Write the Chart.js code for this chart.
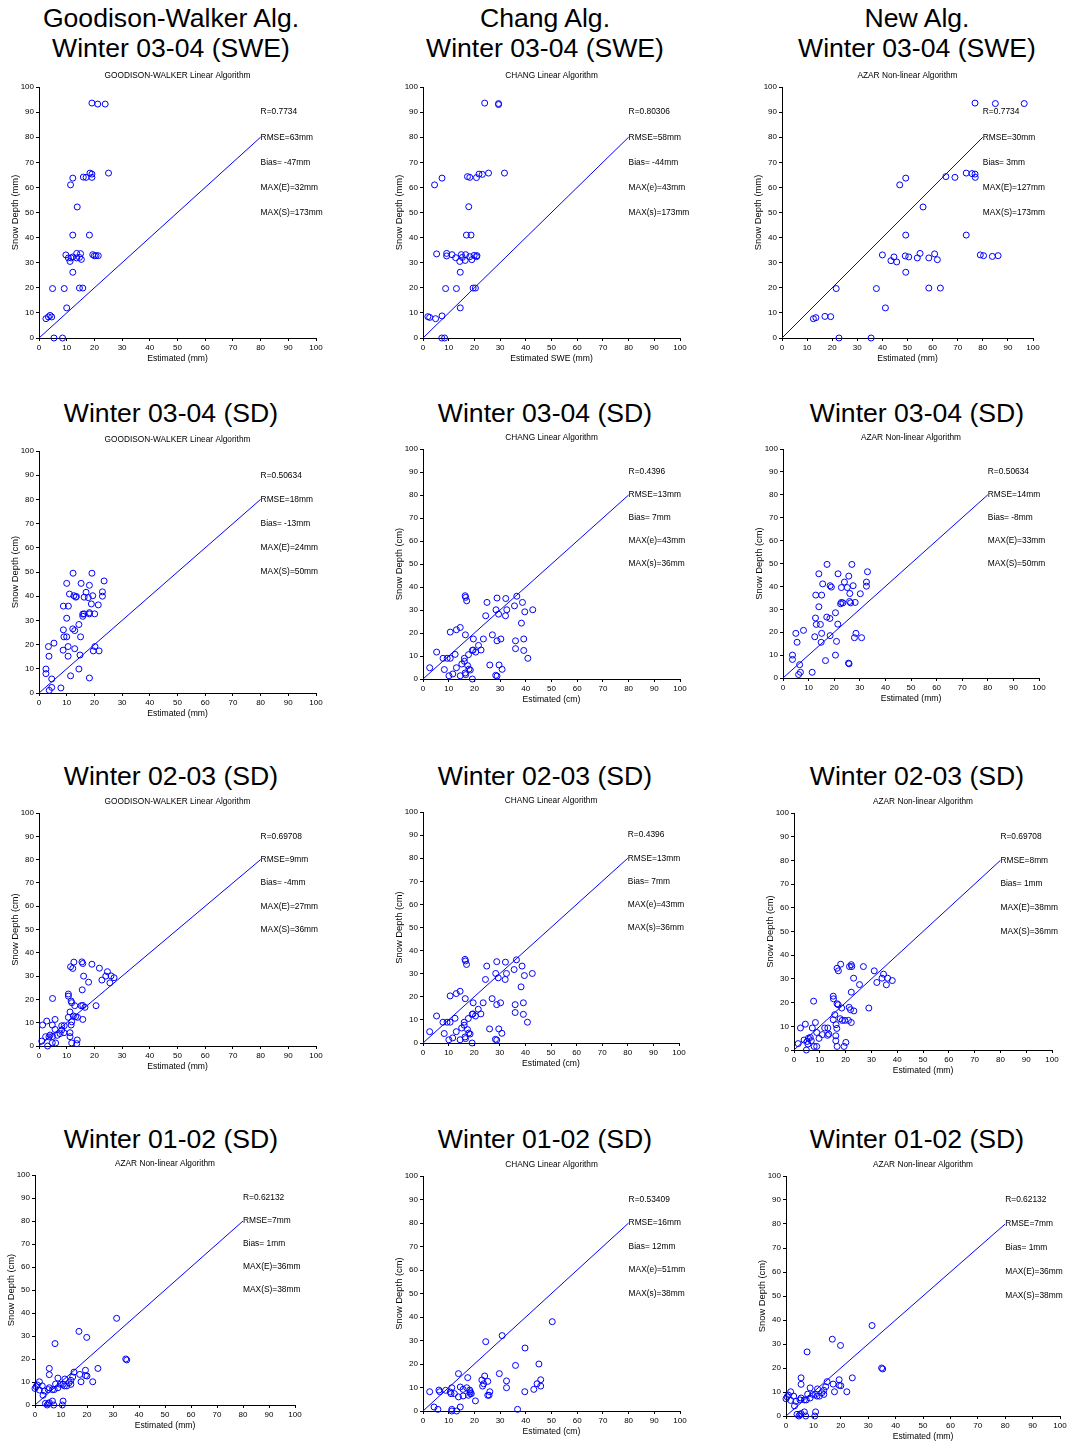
<!DOCTYPE html>
<html>
<head>
<meta charset="utf-8">
<script src="https://cdn.jsdelivr.net/npm/chart.js@4.4.0/dist/chart.umd.min.js"></script>
<style>
  body { margin: 0; background: #fff; width: 1070px; height: 1442px; position: relative; overflow: hidden;
         font-family: Arial, "Liberation Sans", sans-serif; }
  .big { position: absolute; font-size: 26.6px; line-height: 30px; transform: translateX(-50%); white-space: nowrap; color: #000; }
  canvas { position: absolute; }
</style>
</head>
<body>
<script>
// ---- titles ----
const colTitles = ["Goodison-Walker Alg.", "Chang Alg.", "New Alg."];
const rowTitles = ["Winter 03-04 (SWE)", "Winter 03-04 (SD)", "Winter 02-03 (SD)", "Winter 01-02 (SD)"];

// ---- 1:1 reference line ----
const refLineX = [0, 80];
const refLineY = [0, 80];

// ---- winter 03-04, SWE ----
const gwSwe0304Est = [19.1,21.2,23.9,18.4,19.1,19.1,17.0,16.0,25.1,12.2,11.4,13.8,12.2,18.2,9.7,10.6,11.2,11.6,12.2,13.6,13.6,14.6,15.0,15.3,19.4,20.0,20.6,21.4,12.2,9.1,4.9,14.6,15.8,10.0,2.5,3.4,4.0,4.6,5.4,8.5];
const gwSwe0304Obs = [93.6,93.2,93.2,65.7,65.3,64.0,64.0,64.1,65.7,63.7,61.0,52.2,41.0,41.0,33.1,31.9,30.5,31.9,32.3,33.7,31.9,32.1,33.6,31.3,33.2,32.8,32.8,32.8,26.2,19.7,19.7,19.9,19.9,12.0,7.7,8.4,9.0,8.4,0,0];

const changSwe0304Est = [24.0,29.4,29.4,4.5,7.4,17.3,18.2,20.8,21.8,23.1,25.5,31.7,17.8,16.9,18.7,5.3,9.2,9.2,11.3,12.7,14.3,14.9,15.3,16.4,16.6,18.2,19.0,19.9,20.8,21.0,14.5,8.8,13.0,19.5,20.4,14.5,1.9,2.6,4.9,7.4,7.3,8.4];
const changSwe0304Obs = [93.6,93.4,93.0,61.0,63.7,64.3,64.0,63.9,65.3,65.2,65.7,65.7,52.3,41.0,41.0,33.5,33.7,32.7,33.2,32.0,30.5,33.2,32.1,30.9,33.2,32.4,31.2,32.9,32.4,32.8,26.2,19.7,19.7,19.9,19.9,12.0,8.5,8.2,7.7,8.8,0,0];

const azarSwe0304Est = [76.9,85.0,96.5,73.4,75.7,76.9,77.0,68.9,65.3,46.9,49.3,56.2,49.3,73.4,40.0,44.6,43.4,45.7,49.1,50.5,53.9,55.0,58.5,60.8,61.9,79.0,80.3,83.8,86.1,49.3,21.6,37.6,58.5,63.1,41.2,12.5,13.5,17.1,19.4,22.7,35.5];
const azarSwe0304Obs = [93.6,93.4,93.4,65.7,65.5,65.3,64.0,64.0,64.3,61.0,63.7,52.2,41.0,41.0,33.1,32.3,30.8,30.3,32.7,32.3,31.9,33.7,31.9,33.5,31.2,33.1,32.8,32.5,32.8,26.2,19.7,19.7,19.9,19.9,12.0,7.7,8.1,8.6,8.5,0,0];

// ---- winter 03-04, snow depth ----
const gwSd0304Est = [12.3,19.1,10.0,15.2,18.2,23.5,11.0,12.6,13.3,13.5,17.0,16.3,17.8,19.4,22.9,22.9,8.8,10.6,18.9,21.4,10.0,15.8,15.8,16.3,18.2,18.2,20.1,8.8,12.2,12.9,14.4,9.0,10.0,15.0,3.4,5.4,10.5,8.7,12.9,3.6,10.5,14.8,20.2,19.6,21.7,2.5,2.5,14.4,11.4,18.2,4.6,4.6,3.7,7.9];
const gwSd0304Obs = [49.5,49.5,45.3,45.3,44.5,46.3,40.9,40.2,39.6,39.9,41.6,39.6,39.4,40.2,41.8,40.0,35.9,35.9,36.8,36.4,30.9,32.6,31.7,32.7,33.2,32.7,32.7,26.1,26.5,25.8,28.3,23.2,23.2,23.2,19.2,20.6,19.2,17.7,18.3,15.2,15.2,15.7,19.2,17.4,17.4,9.9,8.0,9.9,7.1,6.2,5.8,2.3,1.1,2.1];

// Chang snow depth (same in the 03-04 and 02-03 rows)
const changSdEst = [16.4,16.6,17.0,28.8,32.2,36.5,24.9,38.7,28.4,32.6,29.4,35.6,39.6,42.7,24.4,32.1,38.3,14.5,13.0,10.6,16.5,27.0,19.6,23.5,28.8,30.3,36.0,39.2,36.0,39.2,21.6,22.6,19.5,19.2,20.5,5.3,12.5,17.7,7.8,9.4,10.6,16.1,40.8,2.6,8.3,13.0,15.1,16.1,17.4,17.9,18.4,16.4,16.6,26.0,29.6,30.8,10.1,11.6,14.5,19.2,28.3,28.8];
const changSdObs = [36.2,35.5,34.0,35.2,35.0,36.0,33.3,33.3,30.1,30.1,28.2,31.8,29.2,30.1,27.5,27.5,24.3,22.4,21.4,20.4,19.2,19.2,17.4,17.4,16.6,17.4,16.6,17.4,13.2,12.4,14.6,12.6,12.6,12.4,11.7,11.7,10.7,10.6,9.0,9.0,9.0,9.0,9.0,4.9,4.1,4.9,6.5,7.7,5.8,4.3,3.9,2.6,1.9,6.1,6.1,4.2,1.4,2.2,1.4,0,1.6,1.3];

const azarSd0304Est = [17.2,26.9,14.0,21.5,25.7,33.0,15.5,18.4,18.9,24.0,22.8,25.1,27.4,32.6,32.6,12.8,15.1,26.1,30.2,14.0,22.5,22.8,23.4,26.0,26.4,28.2,12.7,17.1,18.3,20.5,13.0,14.6,21.4,5.0,8.0,15.1,12.4,18.4,5.5,14.9,20.9,28.5,27.9,30.7,3.7,3.7,20.5,16.6,25.6,25.8,6.5,6.8,6.1,11.4];
const azarSd0304Obs = [49.6,49.6,45.5,45.5,44.5,46.4,41.1,40.3,39.7,41.9,39.5,39.5,40.3,41.9,40.1,36.2,36.2,36.9,36.8,31.1,32.4,33.0,32.8,33.4,32.8,33.0,26.2,26.6,26.0,28.5,23.4,23.4,23.5,19.5,20.8,19.5,18.0,18.5,15.6,15.6,16.0,19.5,17.6,17.6,10.0,8.1,10.0,7.6,6.5,6.2,5.8,2.5,1.5,2.5];

// ---- winter 02-03, snow depth ----
const gwSd0203Est = [12.6,15.5,15.8,11.4,12.2,19.1,21.8,24.7,24.1,26.0,27.1,22.7,25.6,17.9,16.1,15.6,10.6,10.6,4.9,11.6,11.8,15.2,15.8,16.6,12.9,20.6,11.2,12.4,13.2,10.6,13.9,15.8,11.8,11.6,5.8,2.8,1.3,8.2,9.1,4.8,5.8,8.2,9.0,11.2,7.6,6.6,4.0,3.6,2.4,4.9,11.2,1.0,4.8,6.0,11.8,13.8,13.6,3.1];
const gwSd0203Obs = [36.0,36.1,35.4,34.0,33.3,35.1,33.4,31.9,30.0,30.1,29.3,28.3,27.1,27.4,30.0,24.1,22.3,21.4,20.4,19.3,18.6,17.3,17.4,16.6,17.3,17.3,14.6,12.9,12.6,12.3,12.3,11.4,10.4,9.0,11.4,10.7,9.0,8.7,8.7,9.0,7.1,6.9,5.7,5.7,5.3,4.6,4.7,3.9,4.0,4.1,4.0,2.1,1.4,1.3,1.3,2.6,1.0,0];

const azarSd0203Est = [18.1,22.2,22.4,21.5,16.7,17.2,26.9,31.1,34.7,34.1,36.3,38.1,32.1,35.8,25.4,23.1,22.2,15.2,15.3,7.6,16.7,17.1,18.5,21.4,21.9,23.2,29.0,15.8,15.2,17.9,18.7,19.7,21.1,22.2,16.3,8.3,4.4,2.5,7.1,16.6,11.9,13.1,8.8,13.5,13.0,11.0,16.2,9.7,5.6,6.3,3.9,6.7,5.1,1.6,5.4,16.2,16.7,20.1,19.4,7.8,8.8,4.8];
const azarSd0203Obs = [36.2,36.0,35.2,35.2,34.5,33.4,35.2,33.4,32.0,30.3,30.3,29.3,28.5,27.5,27.6,30.3,24.4,22.7,21.6,20.6,19.5,19.1,17.7,18.0,17.0,16.5,17.7,14.9,12.8,13.2,12.5,12.5,12.5,11.6,10.7,11.6,10.9,9.3,9.3,9.1,9.3,9.3,7.4,6.7,6.2,6.5,6.0,4.9,5.0,5.3,4.2,3.9,3.6,2.7,2.5,3.9,1.5,3.2,1.5,1.5,1.5,0];

// ---- winter 01-02, snow depth ----
const azarSd0102Est = [31.4,16.9,19.9,7.7,5.5,5.5,24.2,19.4,15.0,17.2,19.4,20.0,14.5,8.8,11.5,13.8,17.7,22.2,1.7,13.1,7.9,9.7,10.8,11.3,12.2,13.8,0.4,0.9,2.8,0,5.5,8.8,1.7,3.6,5.1,6.7,7.4,3.1,4.0,5.1,5.5,6.7,7.2,4.7,10.8,10.5,34.9,35.3];
const azarSd0102Obs = [37.7,32.0,29.4,26.7,15.9,13.2,15.9,15.1,14.3,13.3,12.8,12.6,12.2,11.7,11.3,10.7,10.1,10.1,10.1,9.7,9.1,9.0,9.0,8.3,8.3,9.0,8.0,8.7,8.3,7.2,7.5,7.5,6.5,6.1,6.7,6.7,6.7,4.2,0.7,0.6,1.0,1.7,0,0,1.7,0,20.0,19.6];

const changSd0102Est = [50.3,30.8,24.4,39.7,45.1,36.0,13.8,29.7,17.4,24.0,22.9,25.2,32.5,45.8,44.4,45.8,23.2,23.6,32.5,14.5,11.2,17.0,15.6,18.2,18.4,18.4,17.7,18.8,2.6,6.2,6.5,8.8,10.6,10.9,12.2,13.8,15.6,26.0,25.2,25.7,39.6,43.1,20.4,4.3,5.8,11.2,11.2,13.1,14.5,36.8];
const changSd0102Obs = [38.0,32.1,29.5,26.8,20.0,19.4,15.9,15.9,14.2,14.9,13.2,12.6,12.8,13.3,11.6,10.6,10.6,11.6,9.9,10.2,9.9,9.9,9.2,8.9,8.2,7.4,6.7,7.4,8.2,8.9,8.2,8.8,8.1,7.4,7.4,6.0,6.4,8.2,6.7,6.7,8.2,9.2,4.3,1.7,0.7,0.7,0,0,1.7,0.7];

// ---- statistics printed in each panel ----
const statsGwSwe0304    = ["R=0.7734", "RMSE=63mm", "Bias= -47mm", "MAX(E)=32mm", "MAX(S)=173mm"];
const statsChangSwe0304 = ["R=0.80306", "RMSE=58mm", "Bias= -44mm", "MAX(e)=43mm", "MAX(s)=173mm"];
const statsAzarSwe0304  = ["R=0.7734", "RMSE=30mm", "Bias= 3mm", "MAX(E)=127mm", "MAX(S)=173mm"];
const statsGwSd0304     = ["R=0.50634", "RMSE=18mm", "Bias= -13mm", "MAX(E)=24mm", "MAX(S)=50mm"];
const statsChangSd      = ["R=0.4396", "RMSE=13mm", "Bias= 7mm", "MAX(e)=43mm", "MAX(s)=36mm"];
const statsAzarSd0304   = ["R=0.50634", "RMSE=14mm", "Bias= -8mm", "MAX(E)=33mm", "MAX(S)=50mm"];
const statsGwSd0203     = ["R=0.69708", "RMSE=9mm", "Bias= -4mm", "MAX(E)=27mm", "MAX(S)=36mm"];
const statsAzarSd0203   = ["R=0.69708", "RMSE=8mm", "Bias= 1mm", "MAX(E)=38mm", "MAX(S)=36mm"];
const statsAzarSd0102   = ["R=0.62132", "RMSE=7mm", "Bias= 1mm", "MAX(E)=36mm", "MAX(S)=38mm"];
const statsChangSd0102  = ["R=0.53409", "RMSE=16mm", "Bias= 12mm", "MAX(e)=51mm", "MAX(s)=38mm"];

const GW = "GOODISON-WALKER Linear Algorithm";
const CH = "CHANG Linear Algorithm";
const AZ = "AZAR Non-linear Algorithm";

// plot boxes [left, top, right, bottom] in page pixels
const panels = [
  { box: [39, 87, 316, 338],     algo: GW, yt: "Snow Depth (mm)", xt: "Estimated (mm)",     x: gwSwe0304Est,    y: gwSwe0304Obs,    stats: statsGwSwe0304 },
  { box: [423, 87, 680, 338],    algo: CH, yt: "Snow Depth (mm)", xt: "Estimated SWE (mm)", x: changSwe0304Est, y: changSwe0304Obs, stats: statsChangSwe0304 },
  { box: [782, 87, 1033, 338],   algo: AZ, yt: "Snow Depth (mm)", xt: "Estimated (mm)",     x: azarSwe0304Est,  y: azarSwe0304Obs,  stats: statsAzarSwe0304 },
  { box: [39, 451, 316, 693],    algo: GW, yt: "Snow Depth (cm)", xt: "Estimated (mm)",     x: gwSd0304Est,     y: gwSd0304Obs,     stats: statsGwSd0304 },
  { box: [423, 449, 680, 679],   algo: CH, yt: "Snow Depth (cm)", xt: "Estimated (cm)",     x: changSdEst,      y: changSdObs,      stats: statsChangSd },
  { box: [783, 449, 1039, 678],  algo: AZ, yt: "Snow Depth (cm)", xt: "Estimated (mm)",     x: azarSd0304Est,   y: azarSd0304Obs,   stats: statsAzarSd0304 },
  { box: [39, 813, 316, 1046],   algo: GW, yt: "Snow Depth (cm)", xt: "Estimated (mm)",     x: gwSd0203Est,     y: gwSd0203Obs,     stats: statsGwSd0203 },
  { box: [423, 812, 679, 1043],  algo: CH, yt: "Snow Depth (cm)", xt: "Estimated (cm)",     x: changSdEst,      y: changSdObs,      stats: statsChangSd },
  { box: [794, 813, 1052, 1050], algo: AZ, yt: "Snow Depth (cm)", xt: "Estimated (mm)",     x: azarSd0203Est,   y: azarSd0203Obs,   stats: statsAzarSd0203 },
  { box: [35, 1175, 295, 1405],  algo: AZ, yt: "Snow Depth (cm)", xt: "Estimated (mm)",     x: azarSd0102Est,   y: azarSd0102Obs,   stats: statsAzarSd0102 },
  { box: [423, 1176, 680, 1411], algo: CH, yt: "Snow Depth (cm)", xt: "Estimated (cm)",     x: changSd0102Est,  y: changSd0102Obs,  stats: statsChangSd0102 },
  { box: [786, 1176, 1060, 1416],algo: AZ, yt: "Snow Depth (cm)", xt: "Estimated (mm)",     x: azarSd0102Est,   y: azarSd0102Obs,   stats: statsAzarSd0102 },
];

const FONT = 'Arial, "Liberation Sans", sans-serif';
const BLUE = "#0000ff";

// big headings above each row
const colCenters = [171, 545, 917];
const rowTitleTops = [33, 398, 761, 1124];
function addHeading(text, cx, top) {
  const d = document.createElement("div");
  d.className = "big";
  d.style.left = cx + "px";
  d.style.top = top + "px";
  d.textContent = text;
  document.body.appendChild(d);
}
colTitles.forEach((t, c) => {
  addHeading(t, colCenters[c], 3);
});
rowTitles.forEach((t, r) => {
  colCenters.forEach((cx) => addHeading(t, cx, rowTitleTops[r]));
});

// subtitle, axis titles and stats block, drawn on top of each chart
const panelText = {
  id: "panelText",
  afterDraw(chart, args, opts) {
    const { ctx, chartArea: a, scales } = chart;
    const cx = (a.left + a.right) / 2;
    ctx.save();
    ctx.fillStyle = "#000";
    ctx.textAlign = "center";
    ctx.textBaseline = "middle";
    ctx.font = "8.3px " + FONT;
    ctx.fillText(opts.algo, cx, a.top - 11);
    ctx.font = "8.6px " + FONT;
    ctx.fillText(opts.xt, cx, a.bottom + 21);

    ctx.save();
    ctx.translate(a.left - 24, (a.top + a.bottom) / 2);
    ctx.rotate(-Math.PI / 2);
    ctx.font = "9.4px " + FONT;
    ctx.fillText(opts.yt, 0, 0);
    ctx.restore();

    ctx.font = "8.4px " + FONT;
    ctx.textAlign = "left";
    opts.stats.forEach((s, i) => {
      ctx.fillText(s, scales.x.getPixelForValue(80), scales.y.getPixelForValue(90 - 10 * i));
    });
    ctx.restore();
  },
};

function axis(fit) {
  return {
    type: "linear",
    min: 0,
    max: 100,
    ticks: { stepSize: 10, color: "#000", font: { family: FONT, size: 8 }, padding: 2, maxRotation: 0 },
    grid: { drawOnChartArea: false, drawTicks: true, tickLength: 3, color: "#000" },
    border: { display: true, color: "#000", width: 1 },
    afterFit: fit,
  };
}

panels.forEach((p) => {
  const [L, T, R, B] = p.box;
  const canvas = document.createElement("canvas");
  const w = R - L + 55;
  const h = B - T + 45;
  canvas.width = w;
  canvas.height = h;
  canvas.style.left = (L - 40) + "px";
  canvas.style.top = (T - 20) + "px";
  canvas.style.width = w + "px";
  canvas.style.height = h + "px";
  document.body.appendChild(canvas);

  const pts = p.x.map((v, i) => ({ x: v, y: p.y[i] }));
  const line = refLineX.map((v, i) => ({ x: v, y: refLineY[i] }));

  new Chart(canvas.getContext("2d"), {
    type: "scatter",
    data: {
      datasets: [
        {
          data: pts,
          pointStyle: "circle",
          pointRadius: 3,
          borderColor: BLUE,
          backgroundColor: "rgba(0,0,0,0)",
          borderWidth: 1,
          clip: false,
        },
        {
          data: line,
          showLine: true,
          pointRadius: 0,
          borderColor: BLUE,
          borderWidth: 1,
        },
      ],
    },
    options: {
      responsive: false,
      animation: false,
      devicePixelRatio: 1,
      layout: { padding: { left: 0, top: 20, right: 15, bottom: 0 } },
      plugins: {
        legend: { display: false },
        tooltip: { enabled: false },
        panelText: { algo: p.algo, xt: p.xt, yt: p.yt, stats: p.stats },
      },
      scales: {
        x: axis((s) => { s.height = 25; }),
        y: axis((s) => { s.width = 40; }),
      },
    },
    plugins: [panelText],
  });
});
</script>
</body>
</html>
